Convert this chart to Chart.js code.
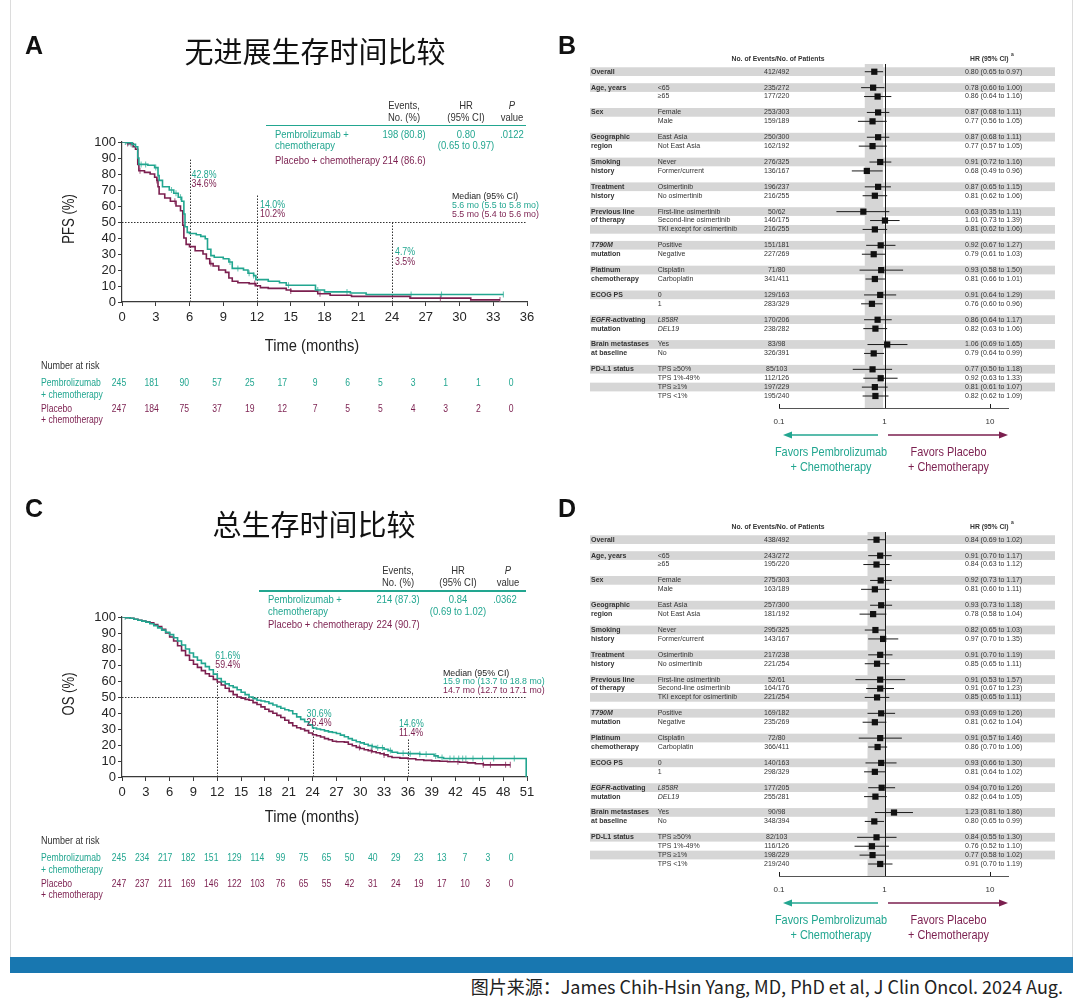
<!DOCTYPE html>
<html>
<head>
<meta charset="utf-8">
<script src="https://cdn.jsdelivr.net/npm/chart.js@4.4.1/dist/chart.umd.min.js"></script>
<style>
  html, body { margin: 0; padding: 0; background: #fff; }
  #page { position: relative; width: 1080px; height: 1004px; overflow: hidden; background: #fff; }
  #page canvas { position: absolute; }
  .t { position: absolute; white-space: nowrap; line-height: 1; }
</style>
</head>
<body>
<div id="page">
  <canvas id="pfs" width="560" height="470" style="left:0;top:0"></canvas>
  <canvas id="pfsForest" width="520" height="480" style="left:560px;top:0"></canvas>
  <canvas id="os" width="560" height="475" style="left:0;top:475px"></canvas>
  <canvas id="osForest" width="520" height="480" style="left:560px;top:468px"></canvas>
</div>
<script>
// ---------- data: Kaplan-Meier (PFS) ----------
const pfsPemT = [0, 0.4, 0.9, 1.2, 1.4, 1.5, 2.3, 2.9, 3.2, 3.3, 3.6, 4.2, 4.6, 5.0, 5.3, 5.5, 5.6, 5.8, 6.0, 6.6,
  7.0, 7.4, 7.6, 7.9, 8.2, 9.0, 9.5, 9.8, 10.8, 11.2, 11.7, 11.9, 13.0, 14.0, 14.6, 17.2, 18.0, 20.3, 21.7, 33.9];
const pfsPemS = [100, 99.5, 98.5, 97, 90, 86, 85.5, 84, 79, 76, 72, 70, 68, 65.5, 63, 55, 47, 43.5, 42.8, 42,
  41, 39.5, 33, 29, 28, 27, 25, 21, 20, 18, 16.5, 14, 13, 12, 10.5, 7.5, 6.3, 5.6, 4.7, 4.7];
const pfsPboT = [0, 0.5, 1.0, 1.2, 1.4, 1.5, 2.0, 2.5, 2.9, 3.1, 3.2, 3.3, 3.8, 4.3, 4.8, 5.2, 5.4, 5.5, 5.7, 6.0,
  6.5, 7.2, 7.5, 7.8, 8.1, 8.6, 9.2, 9.5, 9.8, 10.3, 11.3, 11.9, 12.3, 13.0, 14.6, 15.0, 17.4, 18.5, 20.4, 25.6, 31.0, 33.6];
const pfsPboS = [100, 99, 97, 95.5, 86, 82, 81, 80, 78, 76, 72, 67.5, 65, 63, 60, 57, 48, 40, 36, 34.6,
  32, 30, 27, 24, 22.5, 20, 18.5, 15, 13, 12, 11.5, 10.2, 9, 8.5, 7.5, 6.8, 5.2, 4.2, 3.5, 2.4, 1.3, 1.3];
const pfsPemCens = [0.3, 0.6, 0.9, 1.7, 2.1, 3.0, 4.4, 4.8, 5.2, 9.6, 10.3, 11.3, 11.7, 14.8, 17.4, 20.0, 25.7, 28.4, 33.9];
const pfsPboCens = [0.5, 0.8, 1.6, 3.1, 4.7, 7.9, 11.8, 15.0, 17.6, 28.3, 33.6];
const pfsLandT = [6, 12, 24];
const pfsLandPem = [42.8, 14.0, 4.7];
const pfsLandPbo = [34.6, 10.2, 3.5];
const pfsRiskPem = [245, 181, 90, 57, 25, 17, 9, 6, 5, 3, 1, 1, 0];
const pfsRiskPbo = [247, 184, 75, 37, 19, 12, 7, 5, 5, 4, 3, 2, 0];

// ---------- data: Kaplan-Meier (OS) ----------
const osPemT = [0, 0.5, 1, 1.5, 2, 2.5, 3, 3.5, 4, 4.5, 5, 5.5, 6, 6.5, 7, 7.5, 8, 8.5, 9, 9.5,
  10, 10.5, 11, 11.5, 12, 12.5, 13, 13.5, 14, 14.5, 15, 15.5, 16, 16.5, 17, 17.5, 18, 18.5, 19, 19.5,
  20, 20.5, 21, 21.5, 22, 22.5, 23, 23.5, 24, 24.5, 25, 25.5, 26, 26.5, 27, 27.5, 28, 28.5, 29, 29.5,
  30, 30.5, 31, 31.5, 32, 33, 33.5, 34, 34.7, 36, 37.5, 39.3, 39.8, 40.5, 50.9];
const osPemS = [100, 99.6, 99.2, 98.6, 98, 97.4, 96.8, 95.8, 94.6, 93.2, 91.8, 90.4, 89, 87, 85, 82.5, 80, 77.5, 75, 73,
  71, 69, 67, 64.3, 61.6, 59.6, 58.2, 57, 56, 54.5, 53, 51.5, 50, 49, 48, 47.5, 47, 46, 45, 44,
  43, 42, 41.4, 39.5, 37.6, 36, 34.5, 32.6, 30.6, 30, 29.5, 28.8, 28.2, 27.8, 27.2, 26.2, 25.2, 24, 23, 22,
  21.3, 20.5, 19.6, 19, 18.3, 17.3, 16.5, 15.5, 14.8, 14.6, 14.2, 13.2, 12.2, 11.6, 0];
const osPboT = [0, 0.5, 1, 1.5, 2, 2.5, 3, 3.5, 4, 4.5, 5, 5.5, 6, 6.5, 7, 7.5, 8, 8.5, 9, 9.5,
  10, 10.5, 11, 11.5, 12, 12.5, 13, 13.5, 14, 14.5, 15, 15.5, 16, 16.5, 17, 17.5, 18, 18.5, 19, 19.5,
  20, 20.5, 21, 21.5, 22, 22.5, 23, 23.5, 24, 24.5, 25, 25.5, 26, 26.5, 27, 27.5, 28, 28.5, 29, 29.5,
  30, 30.5, 31, 31.5, 32, 32.5, 33, 33.5, 34, 35, 36, 37, 38, 39, 40, 41, 42.5, 43.5, 44.5, 45.5, 48.9];
const osPboS = [100, 99.6, 99.2, 98.6, 98, 97.5, 97, 96.3, 95.3, 94, 92.3, 90, 87.5, 85, 82, 79, 76, 73, 70.5, 68.5,
  66.5, 64.5, 63, 61, 59.4, 57.5, 55.5, 53.5, 51.5, 50, 49.3, 48.5, 48, 46.5, 45.3, 43.8, 42.3, 41, 39.8, 38.5,
  37.2, 35.5, 33.8, 32, 30.8, 30, 29, 27.5, 26.4, 25.8, 25, 24, 23.3, 22.3, 22, 22, 21.8, 20.5, 19.5, 18.5,
  17.8, 17, 16.5, 15.8, 15.2, 14.5, 13.8, 12.8, 12.2, 11.8, 11.4, 10.8, 10.4, 10.1, 9.8, 9.5, 9.2, 8.8, 8.3, 7.6, 7.6];
const osPemCens = [0.4, 31.5, 32.2, 32.8, 33.8, 35.4, 36.3, 37.5, 38.3, 39.5, 40.3, 41.3, 41.8, 42.4, 42.9, 43.3, 44.2, 45.4, 46.8, 49.4];
const osPboCens = [29.9, 31.4, 33.0, 42.3, 45.5, 46.4, 48.3, 48.9];
const osLandT = [12, 24, 36];
const osLandPem = [61.6, 30.6, 14.6];
const osLandPbo = [59.4, 26.4, 11.4];
const osRiskPem = [245, 234, 217, 182, 151, 129, 114, 99, 75, 65, 50, 40, 29, 23, 13, 7, 3, 0];
const osRiskPbo = [247, 237, 211, 169, 146, 122, 103, 76, 65, 55, 42, 31, 24, 19, 17, 10, 3, 0];

// ---------- data: forest plots ----------
const fGroupLabels = [['Overall'], ['Age, years'], ['Sex'], ['Geographic', 'region'], ['Smoking', 'history'],
  ['Treatment', 'history'], ['Previous line', 'of therapy'], ['T790M', 'mutation'], ['Platinum', 'chemotherapy'],
  ['ECOG PS'], ['EGFR-activating', 'mutation'], ['Brain metastases', 'at baseline'], ['PD-L1 status']];
const fGroupSizes = [1, 2, 2, 2, 2, 2, 3, 2, 2, 2, 2, 2, 4];
const fSubgroups = ['', '<65', '≥65', 'Female', 'Male', 'East Asia', 'Not East Asia', 'Never', 'Former/current',
  'Osimertinib', 'No osimertinib', 'First-line osimertinib', 'Second-line osimertinib', 'TKI except for osimertinib',
  'Positive', 'Negative', 'Cisplatin', 'Carboplatin', '0', '1', 'L858R', 'DEL19', 'Yes', 'No',
  'TPS ≥50%', 'TPS 1%-49%', 'TPS ≥1%', 'TPS <1%'];
const italicWords = ['T790M', 'EGFR', 'L858R', 'DEL19'];

const pfsEvents = ['412/492', '235/272', '177/220', '253/303', '159/189', '250/300', '162/192', '276/325', '136/167',
  '196/237', '216/255', '50/62', '146/175', '216/255', '151/181', '227/269', '71/80', '341/411', '129/163', '283/329',
  '170/206', '238/282', '83/98', '326/391', '85/103', '112/126', '197/229', '195/240'];
const pfsHR = [0.80, 0.78, 0.86, 0.87, 0.77, 0.87, 0.77, 0.91, 0.68, 0.87, 0.81, 0.63, 1.01, 0.81, 0.92, 0.79, 0.93,
  0.81, 0.91, 0.76, 0.86, 0.82, 1.06, 0.79, 0.77, 0.92, 0.81, 0.82];
const pfsLo = [0.65, 0.60, 0.64, 0.68, 0.56, 0.68, 0.57, 0.72, 0.49, 0.65, 0.62, 0.35, 0.73, 0.62, 0.67, 0.61, 0.58,
  0.66, 0.64, 0.60, 0.64, 0.63, 0.69, 0.64, 0.50, 0.63, 0.61, 0.62];
const pfsHi = [0.97, 1.00, 1.16, 1.11, 1.05, 1.11, 1.05, 1.16, 0.96, 1.15, 1.06, 1.11, 1.39, 1.06, 1.27, 1.03, 1.50,
  1.01, 1.29, 0.96, 1.17, 1.06, 1.65, 0.99, 1.18, 1.33, 1.07, 1.09];

const osEvents = ['438/492', '243/272', '195/220', '275/303', '163/189', '257/300', '181/192', '295/325', '143/167',
  '217/238', '221/254', '52/61', '164/176', '221/254', '169/182', '235/269', '72/80', '366/411', '140/163', '298/329',
  '177/205', '255/281', '90/98', '348/394', '82/103', '116/126', '198/229', '219/240'];
const osHR = [0.84, 0.91, 0.84, 0.92, 0.81, 0.93, 0.78, 0.82, 0.97, 0.91, 0.85, 0.91, 0.91, 0.85, 0.93, 0.81, 0.91,
  0.86, 0.93, 0.81, 0.94, 0.82, 1.23, 0.80, 0.84, 0.76, 0.77, 0.91];
const osLo = [0.69, 0.70, 0.63, 0.73, 0.60, 0.73, 0.58, 0.65, 0.70, 0.70, 0.65, 0.53, 0.67, 0.65, 0.69, 0.62, 0.57,
  0.70, 0.66, 0.64, 0.70, 0.64, 0.81, 0.65, 0.55, 0.52, 0.58, 0.70];
const osHi = [1.02, 1.17, 1.12, 1.17, 1.11, 1.18, 1.04, 1.03, 1.35, 1.19, 1.11, 1.57, 1.23, 1.11, 1.26, 1.04, 1.46,
  1.06, 1.30, 1.02, 1.26, 1.05, 1.86, 0.99, 1.30, 1.10, 1.02, 1.19];

// ---------- styles ----------
const SANS = "'Liberation Sans', Arial, sans-serif";
const CJK = "'Noto Sans CJK SC', 'Noto Sans', sans-serif";
const TEAL = '#22a690', MAROON = '#7b1f4f', INK = '#222', AXIS = '#3a3a3a', STRIPE = '#d6d6d6';
const TEAL_CENS = '#6cc6b4', MAROON_CENS = '#a9678a';

Chart.defaults.font.family = SANS;
Chart.defaults.color = INK;

// ---------- helpers ----------
const page = document.getElementById('page');

function put(x, y, text, o = {}) {
  const el = document.createElement('div');
  el.className = 't';
  el.textContent = text;
  const size = o.size || 11;
  el.style.left = x + 'px';
  el.style.top = (y - size / 2) + 'px';
  el.style.fontSize = size + 'px';
  el.style.color = o.color || INK;
  el.style.fontWeight = o.bold ? 'bold' : 'normal';
  el.style.fontStyle = o.italic ? 'italic' : 'normal';
  el.style.fontFamily = o.family || SANS;
  const al = o.align || 'left';
  const shift = al === 'center' ? -50 : al === 'right' ? -100 : 0;
  el.style.transformOrigin = (al === 'center' ? '50%' : al === 'right' ? '100%' : '0') + ' 50%';
  el.style.transform = 'translateX(' + shift + '%) scaleX(' + (o.k || 1) + ')';
  page.appendChild(el);
}

function ctext(ctx, str, x, y, font, color, align, k) {
  ctx.save();
  ctx.font = font;
  ctx.fillStyle = color;
  ctx.textBaseline = 'middle';
  ctx.textAlign = align || 'left';
  ctx.translate(x, y);
  ctx.scale(k || 1, 1);
  ctx.fillText(str, 0, 0);
  ctx.restore();
}

function stepPoints(ts, ss) {
  return ts.map((t, i) => ({ x: t, y: ss[i] }));
}

// value of the step curve at a censoring time
function censorPoints(cens, ts, ss) {
  return cens.map(c => {
    let k = 0;
    for (let i = 0; i < ts.length; i++) if (ts[i] <= c) k = i;
    return { x: c, y: ss[k] };
  });
}

// ---------- Kaplan-Meier panels ----------
function kmDecor(cfg) {
  return {
    id: 'kmDecor',
    beforeDatasetsDraw(chart) {
      const { ctx, scales: { x, y } } = chart;
      ctx.save();
      ctx.strokeStyle = '#333';
      ctx.lineWidth = 1;
      ctx.setLineDash([1.5, 1.5]);
      ctx.beginPath();
      const y50 = Math.round(y.getPixelForValue(50)) + 0.5;
      ctx.moveTo(x.getPixelForValue(0), y50);
      ctx.lineTo(x.getPixelForValue(cfg.xMax), y50);
      cfg.landT.forEach((t, i) => {
        const px = Math.round(x.getPixelForValue(t)) + 0.5;
        ctx.moveTo(px, y.getPixelForValue(0));
        ctx.lineTo(px, y.getPixelForValue(cfg.lineTop[i]));
      });
      ctx.stroke();
      ctx.restore();
    },
    afterDraw(chart) {
      const { ctx, chartArea: a, scales: { x, y } } = chart;
      const f10 = '10px ' + SANS;
      // landmark percentages
      cfg.landT.forEach((t, i) => {
        const px = x.getPixelForValue(t) + cfg.labelDx[i];
        const py = y.getPixelForValue(cfg.labelY[i]);
        ctext(ctx, cfg.landPem[i].toFixed(1) + '%', px, py, f10, TEAL, 'left', 0.88);
        ctext(ctx, cfg.landPbo[i].toFixed(1) + '%', px, py + 9.3, f10, MAROON, 'left', 0.88);
      });
      // axis titles
      ctx.save();
      ctx.translate(70, (a.top + a.bottom) / 2 - 3);
      ctx.rotate(-Math.PI / 2);
      ctext(ctx, cfg.yTitle, 0, 0, '16px ' + SANS, INK, 'center', 0.82);
      ctx.restore();
      ctext(ctx, 'Time (months)', 312, cfg.xTitleY, '16px ' + SANS, INK, 'center', 0.92);
      // number at risk
      const rx = t => x.left - 3 + (x.getPixelForValue(t) - x.left) * 0.968;
      ctext(ctx, 'Number at risk', 41, 366.7, f10, '#333', 'left', 0.9);
      ctext(ctx, 'Pembrolizumab', 41, 383.3, f10, TEAL, 'left', 0.86);
      ctext(ctx, '+ chemotherapy', 41, 395, f10, TEAL, 'left', 0.86);
      ctext(ctx, 'Placebo', 41, 409, f10, MAROON, 'left', 0.86);
      ctext(ctx, '+ chemotherapy', 41, 420.7, f10, MAROON, 'left', 0.86);
      cfg.riskPem.forEach((n, i) => ctext(ctx, String(n), rx(i * 3), 383.3, f10, TEAL, 'center', 0.86));
      cfg.riskPbo.forEach((n, i) => ctext(ctx, String(n), rx(i * 3), 409, f10, MAROON, 'center', 0.86));
    }
  };
}

function kmChart(id, cfg) {
  const axisTicks = { color: '#262626', font: { size: 13 }, autoSkip: false };
  return new Chart(document.getElementById(id), {
    type: 'scatter',
    data: {
      datasets: [
        { data: stepPoints(cfg.pemT, cfg.pemS), showLine: true, stepped: true, borderColor: TEAL, borderWidth: 1.6, pointRadius: 0 },
        { data: stepPoints(cfg.pboT, cfg.pboS), showLine: true, stepped: true, borderColor: MAROON, borderWidth: 1.6, pointRadius: 0 },
        { data: censorPoints(cfg.pemCens, cfg.pemT, cfg.pemS), showLine: false, pointStyle: 'line', rotation: 90,
          pointRadius: 3, pointBorderColor: TEAL_CENS, pointBorderWidth: 1.1 },
        { data: censorPoints(cfg.pboCens, cfg.pboT, cfg.pboS), showLine: false, pointStyle: 'line', rotation: 90,
          pointRadius: 3, pointBorderColor: MAROON_CENS, pointBorderWidth: 1.1 }
      ]
    },
    options: {
      responsive: false,
      animation: false,
      devicePixelRatio: 1,
      events: [],
      layout: { padding: { left: 82, right: 33, top: 142, bottom: cfg.padBottom } },
      plugins: { legend: { display: false }, tooltip: { enabled: false } },
      scales: {
        x: {
          type: 'linear', min: 0, max: cfg.xMax,
          ticks: Object.assign({ stepSize: 3, maxRotation: 0, padding: 4 }, axisTicks),
          grid: { drawOnChartArea: false, drawTicks: true, tickLength: 4, color: AXIS },
          border: { color: AXIS, width: 1.2 },
          afterFit: s => { s.height = 56; }
        },
        y: {
          min: 0, max: 100,
          ticks: Object.assign({ stepSize: 10, padding: 2 }, axisTicks),
          grid: { drawOnChartArea: false, drawTicks: true, tickLength: 4, color: AXIS },
          border: { color: AXIS, width: 1.2 },
          afterFit: s => { s.width = 40; }
        }
      }
    },
    plugins: [kmDecor(cfg)]
  });
}

kmChart('pfs', {
  pemT: pfsPemT, pemS: pfsPemS, pboT: pfsPboT, pboS: pfsPboS,
  pemCens: pfsPemCens, pboCens: pfsPboCens,
  landT: pfsLandT, landPem: pfsLandPem, landPbo: pfsLandPbo,
  riskPem: pfsRiskPem, riskPbo: pfsRiskPbo,
  xMax: 36, padBottom: 112, yTitle: 'PFS (%)', xTitleY: 347,
  lineTop: [89, 66.8, 50.5], labelY: [79.2, 60.5, 30.9], labelDx: [2, 3, 3]
});

kmChart('os', {
  pemT: osPemT, pemS: osPemS, pboT: osPboT, pboS: osPboS,
  pemCens: osPemCens, pboCens: osPboCens,
  landT: osLandT, landPem: osLandPem, landPbo: osLandPbo,
  riskPem: osRiskPem, riskPbo: osRiskPbo,
  xMax: 51, padBottom: 117, yTitle: 'OS (%)', xTitleY: 343,
  lineTop: [66, 31, 23.6], labelY: [75.7, 39.3, 33.2], labelDx: [-2, -6, -9]
});

// ---------- forest panels ----------
function rowLayout(sizes, gap) {
  const pos = [], shade = [], gstart = [];
  let p = 0;
  sizes.forEach((n, g) => {
    if (g > 0) p += 1 + gap;
    gstart.push(pos.length);
    for (let j = 0; j < n; j++) {
      if (j > 0) p += 1;
      pos.push(p);
      shade.push(j % 2 === 0);
    }
  });
  return { pos, shade, gstart, last: p };
}

function richText(ctx, str, x, y, bold) {
  const w = bold ? 'bold ' : '';
  const word = italicWords.find(s => str.startsWith(s));
  if (word) {
    ctext(ctx, word, x, y, 'italic ' + w + '7px ' + SANS, '#333', 'left');
    ctx.save();
    ctx.font = 'italic ' + w + '7px ' + SANS;
    const dx = ctx.measureText(word).width;
    ctx.restore();
    ctext(ctx, str.slice(word.length), x + dx, y, w + '7px ' + SANS, '#333', 'left');
  } else {
    ctext(ctx, str, x, y, w + '7px ' + SANS, '#333', 'left');
  }
}

function arrow(ctx, xFrom, xTo, yy, color) {
  const dir = Math.sign(xTo - xFrom);
  ctx.save();
  ctx.strokeStyle = color;
  ctx.fillStyle = color;
  ctx.lineWidth = 1.6;
  ctx.beginPath();
  ctx.moveTo(xFrom, yy);
  ctx.lineTo(xTo - dir * 6, yy);
  ctx.stroke();
  ctx.beginPath();
  ctx.moveTo(xTo, yy);
  ctx.lineTo(xTo - dir * 9, yy - 3.5);
  ctx.lineTo(xTo - dir * 9, yy + 3.5);
  ctx.closePath();
  ctx.fill();
  ctx.restore();
}

function forestDecor(cfg) {
  const L = cfg.layout;
  return {
    id: 'forestDecor',
    beforeDraw(chart) {
      const { ctx, chartArea: a, scales: { x, y } } = chart;
      const unit = y.getPixelForValue(1) - y.getPixelForValue(0);
      ctx.save();
      ctx.fillStyle = STRIPE;
      L.pos.forEach((p, i) => {
        if (!L.shade[i]) return;
        ctx.fillRect(30, y.getPixelForValue(p) - unit / 2, 465, unit * 0.98);
      });
      const b0 = x.getPixelForValue(cfg.lo[0]), b1 = x.getPixelForValue(cfg.hi[0]);
      ctx.fillRect(b0, a.top, b1 - b0, a.bottom - a.top);
      ctx.restore();
    },
    beforeDatasetsDraw(chart) {
      const { ctx, chartArea: a, scales: { x, y } } = chart;
      ctx.save();
      ctx.strokeStyle = '#1a1a1a';
      ctx.lineWidth = 1;
      ctx.beginPath();
      const x1 = Math.round(x.getPixelForValue(1)) + 0.5;
      ctx.moveTo(x1, a.top);
      ctx.lineTo(x1, a.bottom);
      [0.1, 10].forEach(v => {
        const px = Math.round(x.getPixelForValue(v)) + 0.5;
        ctx.moveTo(px, a.bottom);
        ctx.lineTo(px, a.bottom - 4);
      });
      cfg.hr.forEach((h, i) => {
        const py = y.getPixelForValue(L.pos[i]);
        ctx.moveTo(x.getPixelForValue(cfg.lo[i]), py);
        ctx.lineTo(x.getPixelForValue(cfg.hi[i]), py);
      });
      ctx.stroke();
      ctx.restore();
    },
    afterDraw(chart) {
      const { ctx, chartArea: a, scales: { x, y } } = chart;
      const hy = a.top - 5;
      ctext(ctx, 'No. of Events/No. of Patients', 218, hy, 'bold 6.8px ' + SANS, '#333', 'center');
      ctext(ctx, 'HR (95% CI)', 410, hy, 'bold 6.8px ' + SANS, '#333', 'left');
      ctext(ctx, 'a', 451, hy - 4, 'bold 5px ' + SANS, '#333', 'left');
      fGroupLabels.forEach((lines, g) => {
        lines.forEach((s, j) => richText(ctx, s, 31, y.getPixelForValue(L.pos[L.gstart[g] + j]), true));
      });
      fSubgroups.forEach((s, i) => {
        const py = y.getPixelForValue(L.pos[i]);
        if (s) richText(ctx, s, 97.7, py, false);
        ctext(ctx, cfg.events[i], 216.7, py, '7px ' + SANS, '#333', 'center');
        const txt = cfg.hr[i].toFixed(2) + ' (' + cfg.lo[i].toFixed(2) + ' to ' + cfg.hi[i].toFixed(2) + ')';
        ctext(ctx, txt, 405, py, '7px ' + SANS, '#333', 'left');
      });
      // favours arrows
      const x1 = x.getPixelForValue(1);
      const ay = a.bottom + 27;
      arrow(ctx, x1 - 6.5, x.getPixelForValue(0.1) + 4, ay, TEAL);
      arrow(ctx, x1 + 3.5, a.right, ay, MAROON);
      const f13 = '13px ' + SANS;
      ctext(ctx, 'Favors Pembrolizumab', x1 - 53.5, a.bottom + 44, f13, TEAL, 'center', 0.84);
      ctext(ctx, '+ Chemotherapy', x1 - 53.5, a.bottom + 59, f13, TEAL, 'center', 0.84);
      ctext(ctx, 'Favors Placebo', x1 + 64, a.bottom + 44, f13, MAROON, 'center', 0.84);
      ctext(ctx, '+ Chemotherapy', x1 + 64, a.bottom + 59, f13, MAROON, 'center', 0.84);
    }
  };
}

function forestChart(id, cfg) {
  const L = rowLayout(fGroupSizes, 0.79);
  cfg.layout = L;
  return new Chart(document.getElementById(id), {
    type: 'scatter',
    data: {
      datasets: [{
        data: cfg.hr.map((h, i) => ({ x: h, y: L.pos[i] })),
        pointStyle: 'rect', pointRadius: 4.4, pointBackgroundColor: '#111', pointBorderWidth: 0
      }]
    },
    options: {
      responsive: false,
      animation: false,
      devicePixelRatio: 1,
      events: [],
      layout: { padding: { left: 219, right: 72, top: 64, bottom: 52 } },
      plugins: { legend: { display: false }, tooltip: { enabled: false } },
      scales: {
        x: {
          type: 'logarithmic', min: 0.1, max: 14.8,
          afterBuildTicks: s => { s.ticks = [0.1, 1, 10].map(v => ({ value: v })); },
          ticks: { callback: v => String(v), autoSkip: false, maxRotation: 0, padding: 9, color: '#333', font: { size: 8 } },
          grid: { display: false, drawTicks: false },
          border: { display: true, color: '#555', width: 1 },
          afterFit: s => { s.height = 20; }
        },
        y: { type: 'linear', display: false, reverse: true, min: -0.87, max: L.last + 1.35 }
      }
    },
    plugins: [forestDecor(cfg)]
  });
}

forestChart('pfsForest', { events: pfsEvents, hr: pfsHR, lo: pfsLo, hi: pfsHi });
forestChart('osForest', { events: osEvents, hr: osHR, lo: osLo, hi: osHi });

// ---------- static text ----------
// panel letters and titles
put(25, 45, 'A', { size: 25, bold: true, color: '#111' });
put(558, 45, 'B', { size: 25, bold: true, color: '#111' });
put(25, 508, 'C', { size: 25, bold: true, color: '#111' });
put(558, 508, 'D', { size: 25, bold: true, color: '#111' });
put(315, 50, '无进展生存时间比较', { size: 29, family: CJK, align: 'center', color: '#111' });
put(314, 523, '总生存时间比较', { size: 29, family: CJK, align: 'center', color: '#111' });

function summaryTable(o) {
  const k = 0.86, s = 11;
  put(o.evX, o.y0, 'Events,', { size: s, k, align: 'center', color: '#333' });
  put(o.evX, o.y0 + 12, 'No. (%)', { size: s, k, align: 'center', color: '#333' });
  put(o.hrX, o.y0, 'HR', { size: s, k, align: 'center', color: '#333' });
  put(o.hrX, o.y0 + 12, '(95% CI)', { size: s, k, align: 'center', color: '#333' });
  put(o.pX, o.y0, 'P', { size: s, k, align: 'center', italic: true, color: '#333' });
  put(o.pX, o.y0 + 12, 'value', { size: s, k, align: 'center', color: '#333' });
  const rule = document.createElement('div');
  Object.assign(rule.style, { position: 'absolute', left: o.ruleX + 'px', top: (o.y0 + 19.5) + 'px',
    width: (526 - o.ruleX) + 'px', height: '1.5px', background: TEAL });
  page.appendChild(rule);
  const r1 = o.y0 + 29;
  put(o.nameX, r1, 'Pembrolizumab +', { size: s, k, color: TEAL });
  put(o.nameX, r1 + 11.7, 'chemotherapy', { size: s, k, color: TEAL });
  put(o.evX, r1, o.pemEv, { size: s, k, align: 'center', color: TEAL });
  put(o.hrX, r1, o.hr, { size: s, k, align: 'center', color: TEAL });
  put(o.hrX, r1 + 11.7, o.ci, { size: s, k, align: 'center', color: TEAL });
  put(o.pvX, r1, o.p, { size: s, k, align: 'center', color: TEAL });
  put(o.nameX, r1 + o.pboDy, 'Placebo + chemotherapy', { size: s, k, color: MAROON });
  put(o.evX, r1 + o.pboDy, o.pboEv, { size: s, k, align: 'center', color: MAROON });
}

summaryTable({ y0: 105, evX: 404, hrX: 466, pX: 512, pvX: 512, ruleX: 266, nameX: 275, pboDy: 26,
  pemEv: '198 (80.8)', pboEv: '214 (86.6)', hr: '0.80', ci: '(0.65 to 0.97)', p: '.0122' });
summaryTable({ y0: 570.5, evX: 397.5, hrX: 458.3, pX: 508, pvX: 505, ruleX: 259, nameX: 267.7, pboDy: 24.5,
  pemEv: '214 (87.3)', pboEv: '224 (90.7)', hr: '0.84', ci: '(0.69 to 1.02)', p: '.0362' });

// median blocks
const mk = { size: 9.5, k: 0.93 };
put(451.7, 196, 'Median (95% CI)', Object.assign({ color: '#222' }, mk));
put(451.7, 204.8, '5.6 mo (5.5 to 5.8 mo)', Object.assign({ color: TEAL }, mk));
put(451.7, 213.6, '5.5 mo (5.4 to 5.6 mo)', Object.assign({ color: MAROON }, mk));
put(442.7, 672.4, 'Median (95% CI)', Object.assign({ color: '#222' }, mk));
put(442.7, 681.2, '15.9 mo (13.7 to 18.8 mo)', Object.assign({ color: TEAL }, mk));
put(442.7, 690, '14.7 mo (12.7 to 17.1 mo)', Object.assign({ color: MAROON }, mk));

// frame, bottom bar and source line
const frame = document.createElement('div');
Object.assign(frame.style, { position: 'absolute', left: '10px', top: '-2px', width: '1061px', height: '959px',
  borderLeft: '1px solid #dcdcdc', borderRight: '1px solid #dcdcdc' });
page.appendChild(frame);
const bar = document.createElement('div');
Object.assign(bar.style, { position: 'absolute', left: '10px', top: '957px', width: '1063px', height: '16px', background: '#1877b0' });
page.appendChild(bar);
put(1063, 986, '图片来源：James Chih-Hsin Yang, MD, PhD et al, J Clin Oncol. 2024 Aug.', { size: 18, family: CJK, align: 'right', color: '#222' });
</script>
</body>
</html>
